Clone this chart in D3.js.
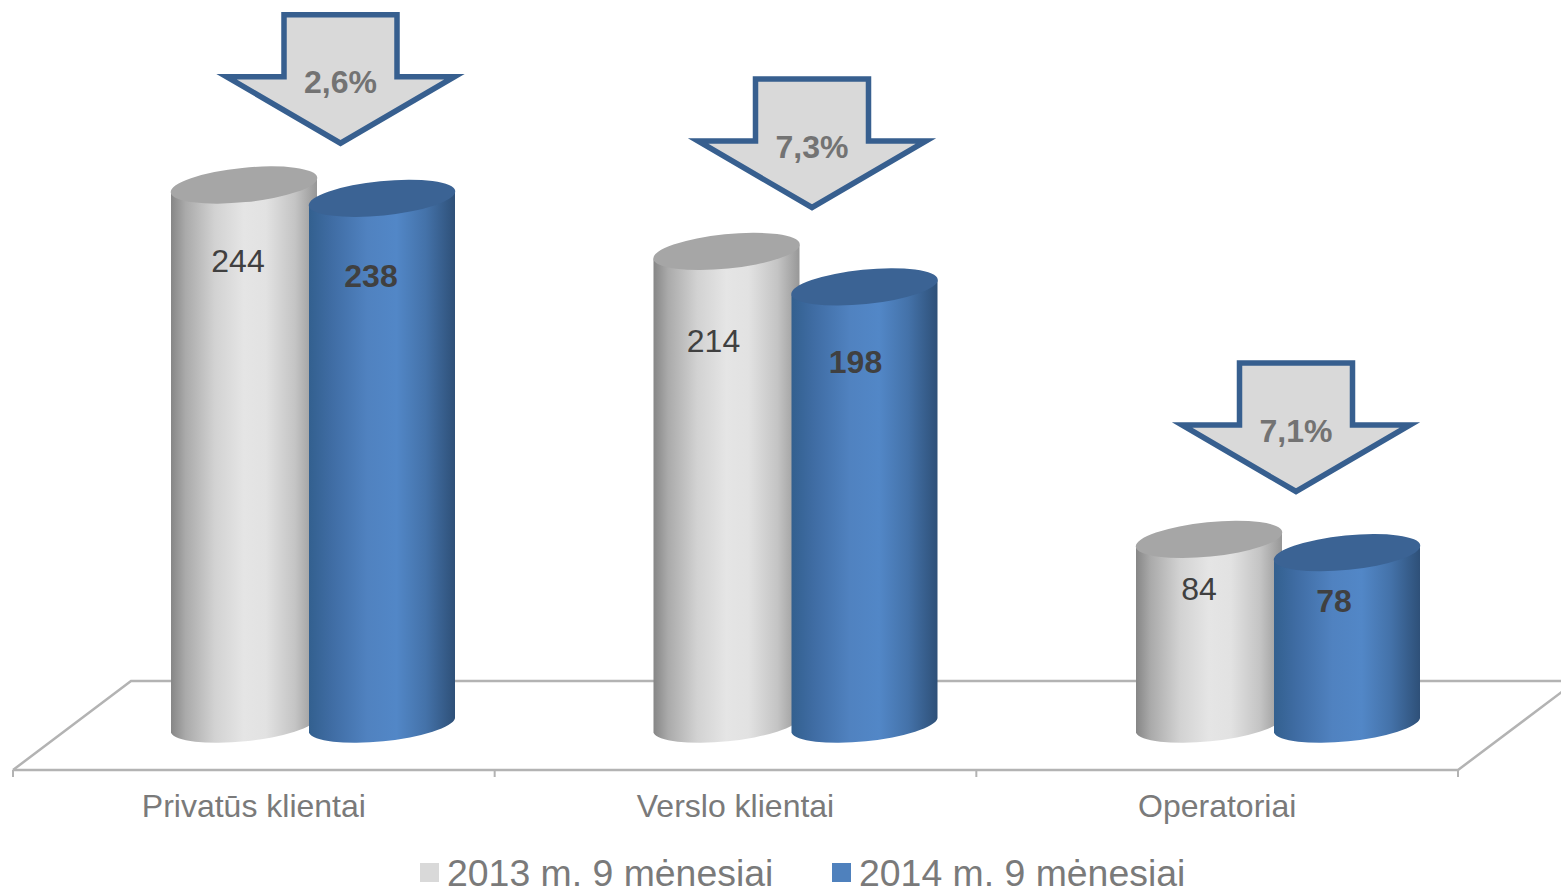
<!DOCTYPE html>
<html>
<head>
<meta charset="utf-8">
<script src="https://cdn.jsdelivr.net/npm/d3@7"></script>
<style>
  html, body { margin: 0; padding: 0; background: #fff; overflow: hidden; }
  text { font-family: "Liberation Sans", Arial, sans-serif; }
</style>
</head>
<body>
<div id="chart"></div>
<script>
// data
const categories = ["Privatūs klientai", "Verslo klientai", "Operatoriai"];
const seriesNames = ["2013 m. 9 mėnesiai", "2014 m. 9 mėnesiai"];
const values2013 = [244, 214, 84];
const values2014 = [238, 198, 78];
const changeLabels = ["2,6%", "7,3%", "7,1%"];

// layout
const svgWidth = 1561;
const svgHeight = 891;
const floor = { left: 13, right: 1458, front: 770, back: 681, depth: 118 };
const halfW = 73;
const ellipseA = 73.6;
const ellipseB = 17.2;
const tiltDeg = -5.77;
const tiltDrop = 7.3;
const seriesGap = 138;
// manual nudges of the data labels and arrows, per group
const labelNudge2013 = [[-6, 75], [-13, 89], [-10, 49]];
const labelNudge2014 = [[-11, 77], [-9, 75], [-13, 48]];
const arrowCenter = [340.5, 812, 1296];
const arrowTop = [14.7, 79, 363];

const svg = d3.select("#chart")
  .append("svg")
  .attr("width", svgWidth)
  .attr("height", svgHeight)
  .style("display", "block");

const defs = svg.append("defs");

function addGradient(id, stops) {
  const g = defs.append("linearGradient").attr("id", id)
    .attr("x1", 0).attr("x2", 1).attr("y1", 0).attr("y2", 0);
  stops.forEach(s => g.append("stop").attr("offset", s[0]).attr("stop-color", s[1]));
}
addGradient("grayBody", [[0, "#868686"], [0.1, "#aaaaaa"], [0.3, "#d2d2d2"], [0.5, "#e5e5e5"], [0.65, "#e2e2e2"], [0.85, "#c4c4c4"], [1, "#979797"]]);
addGradient("blueBody", [[0, "#33608f"], [0.15, "#3f6ca3"], [0.4, "#5082c0"], [0.6, "#5287c7"], [0.8, "#4472a9"], [1, "#2e5078"]]);

// scales
const xAxisScale = d3.scaleBand().domain(categories).range([floor.left, floor.right]).padding(0);
const xBar = d3.scalePoint().domain(categories).range([244, 1209]);
const y = d3.scaleLinear().domain([0, 244]).range([725.5, 185]);

// floor
svg.append("path")
  .attr("d", `M${floor.left},${floor.front}L${floor.left + floor.depth},${floor.back}H${svgWidth}`)
  .attr("fill", "none").attr("stroke", "#b3b3b3").attr("stroke-width", 2.5);
svg.append("path")
  .attr("d", `M${floor.left},${floor.front}H${floor.right}L${svgWidth + 2},${floor.front - 79}`)
  .attr("fill", "none").attr("stroke", "#b3b3b3").attr("stroke-width", 2.5);

// axis, labels at band centres, ticks at band edges
const xAxis = svg.append("g")
  .attr("transform", `translate(0, ${floor.front})`)
  .call(d3.axisBottom(xAxisScale).tickSize(0).tickPadding(24));
xAxis.select(".domain").remove();
xAxis.selectAll("text")
  .style("font-family", '"Liberation Sans", Arial, sans-serif')
  .style("font-size", "32px")
  .attr("fill", "#7a7a7a");
[...categories.map(c => xAxisScale(c)), floor.right].forEach(x => {
  svg.append("line").attr("x1", x).attr("x2", x)
    .attr("y1", floor.front).attr("y2", floor.front + 7)
    .attr("stroke", "#b3b3b3").attr("stroke-width", 2);
});

function bodyPath(cx, yTop, yBase) {
  return `M${cx - halfW},${yTop + tiltDrop}V${yBase + tiltDrop}` +
    `A${ellipseA},${ellipseB} ${tiltDeg} 0 0 ${cx + halfW},${yBase - tiltDrop}` +
    `V${yTop - tiltDrop}` +
    `A${ellipseA},${ellipseB} ${tiltDeg} 0 1 ${cx - halfW},${yTop + tiltDrop}Z`;
}

function drawCylinder(g, cx, value, bodyFill, topFill) {
  g.append("path")
    .attr("d", bodyPath(cx, y(value), y(0)))
    .attr("fill", `url(#${bodyFill})`);
  g.append("ellipse")
    .attr("rx", ellipseA).attr("ry", ellipseB)
    .attr("transform", `translate(${cx},${y(value)}) rotate(${tiltDeg})`)
    .attr("fill", topFill);
}

// cylinders
categories.forEach((c, i) => {
  const g = svg.append("g");
  drawCylinder(g, xBar(c), values2013[i], "grayBody", "#a6a6a6");
  drawCylinder(g, xBar(c) + seriesGap, values2014[i], "blueBody", "#3b6394");
});

// data labels
categories.forEach((c, i) => {
  svg.append("text")
    .attr("x", xBar(c) + labelNudge2013[i][0])
    .attr("y", y(values2013[i]) + labelNudge2013[i][1])
    .attr("dy", "0.36em")
    .attr("text-anchor", "middle")
    .attr("font-size", 32)
    .attr("fill", "#404040")
    .text(values2013[i]);
  svg.append("text")
    .attr("x", xBar(c) + seriesGap + labelNudge2014[i][0])
    .attr("y", y(values2014[i]) + labelNudge2014[i][1])
    .attr("dy", "0.36em")
    .attr("text-anchor", "middle")
    .attr("font-size", 32)
    .attr("font-weight", "bold")
    .attr("fill", "#404040")
    .text(values2014[i]);
});

// change arrows
changeLabels.forEach((label, i) => {
  const cx = arrowCenter[i];
  const top = arrowTop[i];
  const pts = [[-56.5, 0], [56.5, 0], [56.5, 62], [114, 62], [0, 128.5], [-114, 62], [-56.5, 62]];
  svg.append("polygon")
    .attr("points", pts.map(p => [cx + p[0], top + p[1]].join(",")).join(" "))
    .attr("fill", "#d9d9d9")
    .attr("stroke", "#375f8f")
    .attr("stroke-width", 5.5)
    .attr("stroke-miterlimit", 10);
  svg.append("text")
    .attr("x", cx)
    .attr("y", top + 67)
    .attr("dy", "0.36em")
    .attr("text-anchor", "middle")
    .attr("font-size", 32)
    .attr("font-weight", "bold")
    .attr("fill", "#737373")
    .text(label);
});

// legend
const legendX = [420, 832];
const legendColors = ["#d9d9d9", "#4f81bd"];
seriesNames.forEach((name, i) => {
  svg.append("rect")
    .attr("x", legendX[i]).attr("y", 863)
    .attr("width", 19).attr("height", 19)
    .attr("fill", legendColors[i]);
  svg.append("text")
    .attr("x", legendX[i] + 27).attr("y", 886)
    .attr("font-size", 37.4)
    .attr("fill", "#7a7a7a")
    .text(name);
});
</script>
</body>
</html>
